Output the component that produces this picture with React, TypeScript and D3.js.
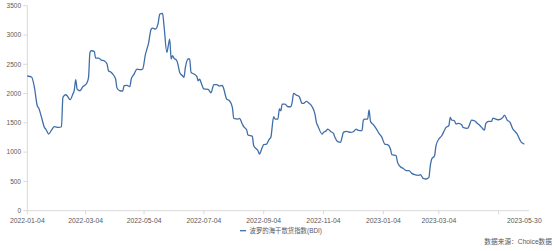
import React from "react";
import * as d3 from "d3";

// [trading-session index, BDI value]
const bdiSeries: [number, number][] = [
  [0,2300],[3,2282],[5,2105],[7,1792],[8,1753],[10,1593],[12,1422],[13,1394],[15,1309],[17,1377],[19,1434],[22,1422],[24,1434],[25,1934],[27,1980],[28,1963],[30,1895],[32,1992],[33,2060],[34,2236],[35,2077],[37,2048],[39,2117],[40,2134],[42,2190],[43,2275],[44,2702],[45,2731],[47,2720],[48,2606],[50,2606],[52,2572],[54,2560],[56,2504],[57,2390],[59,2361],[60,2333],[62,2248],[63,2094],[65,2048],[67,2043],[68,2134],[70,2139],[72,2117],[73,2248],[75,2333],[77,2418],[79,2407],[81,2418],[83,2674],[84,2760],[85,2845],[87,3101],[88,3118],[90,3101],[92,3215],[93,3357],[95,3368],[96,3158],[98,2702],[99,2817],[100,2931],[101,2590],[102,2646],[103,2606],[105,2560],[106,2475],[107,2361],[109,2304],[110,2275],[111,2446],[113,2590],[114,2590],[115,2361],[117,2333],[119,2293],[120,2219],[121,2248],[122,2190],[124,2080],[127,2071],[129,2014],[131,2151],[133,2151],[135,2128],[137,2139],[138,2077],[140,1906],[142,1878],[144,1764],[145,1576],[148,1565],[149,1576],[151,1480],[152,1434],[154,1383],[155,1292],[158,1269],[159,1110],[161,1053],[162,1024],[163,968],[165,1081],[166,1127],[168,1138],[170,1224],[171,1252],[173,1605],[174,1565],[176,1565],[177,1736],[178,1707],[179,1821],[181,1821],[183,1775],[185,1775],[186,1849],[187,2002],[189,1974],[191,1946],[193,1832],[194,1832],[196,1866],[198,1832],[200,1775],[202,1650],[203,1508],[204,1451],[207,1309],[208,1337],[210,1366],[211,1394],[213,1354],[215,1320],[216,1252],[218,1178],[220,1166],[221,1252],[222,1337],[224,1354],[227,1337],[229,1348],[231,1394],[232,1377],[235,1366],[236,1548],[237,1565],[239,1565],[240,1719],[241,1525],[243,1468],[245,1400],[247,1320],[249,1252],[251,1138],[253,1127],[255,1053],[256,956],[259,939],[260,825],[262,751],[264,722],[266,683],[268,683],[270,637],[272,615],[275,603],[276,615],[278,552],[280,541],[282,569],[283,768],[284,882],[286,939],[287,1110],[289,1224],[291,1280],[293,1377],[294,1422],[296,1451],[297,1593],[298,1548],[300,1536],[301,1480],[303,1491],[305,1468],[306,1422],[309,1405],[310,1434],[312,1548],[314,1536],[316,1491],[318,1451],[319,1422],[321,1377],[322,1491],[324,1525],[326,1525],[327,1582],[329,1565],[331,1553],[334,1593],[335,1633],[337,1548],[339,1508],[341,1394],[342,1366],[344,1309],[346,1206],[347,1166],[349,1138]
];

const yTicks = [0, 500, 1000, 1500, 2000, 2500, 3000, 3500];
const xTickIdx = [0, 41, 82, 124, 166, 208, 250, 289, 331];
const xLabelIdx = [0, 41, 82, 124, 166, 208, 250, 289, 349];
const xLabels = ["2022-01-04", "2022-03-04", "2022-05-04", "2022-07-04", "2022-09-04", "2022-11-04", "2023-01-04", "2023-03-04", "2023-05-30"];
const seriesName = "波罗的海干散货指数(BDI)";
const sourceText = "数据来源：Choice数据";

const W = 554, H = 251;
const left = 27.3, right = 524.3, axisEnd = 529, top = 5.7, bottom = 210.7;
const FONT = "'Liberation Sans', 'Noto Sans CJK SC', sans-serif";
const LINE = "#3f6ea8";
const AXIS = "#d9d9d9";
const TEXT = "#595959";

export default function App() {
  const x = d3.scaleLinear().domain([0, 349]).range([left, right]);
  const y = d3.scaleLinear().domain([0, 3500]).range([bottom, top]);
  const line = d3.line<[number, number]>()
    .x(d => x(d[0]))
    .y(d => y(d[1]))
    .curve(d3.curveMonotoneX);

  return (
    <svg width={W} height={H} style={{ position: "absolute", left: 0, top: 0, background: "#fff" }} fontFamily={FONT}>
      <line x1={left} x2={left} y1={top} y2={bottom} stroke={AXIS} strokeWidth={1} />
      <line x1={left} x2={axisEnd} y1={bottom} y2={bottom} stroke={AXIS} strokeWidth={1} />
      {yTicks.map(t => (
        <g key={t}>
          <line x1={left - 4} x2={left} y1={y(t)} y2={y(t)} stroke={AXIS} />
          <text x={21} y={y(t)} dy="0.35em" textAnchor="end" fontSize={6.5} fill={TEXT}>{t}</text>
        </g>
      ))}
      {xTickIdx.map(i => (
        <line key={i} x1={x(i)} x2={x(i)} y1={bottom} y2={bottom + 3.5} stroke={AXIS} />
      ))}
      {xLabelIdx.map((i, k) => (
        <text key={k} x={x(i)} y={222.5} textAnchor="middle" fontSize={6.8} fill={TEXT}>{xLabels[k]}</text>
      ))}
      <path d={line(bdiSeries) || ""} fill="none" stroke={LINE} strokeWidth={1.3} strokeLinejoin="round" />
      <line x1={240} x2={246} y1={230.7} y2={230.7} stroke={LINE} strokeWidth={1.3} />
      <text x={249.5} y={230.7} dy="0.35em" fontSize={6.4} fill={TEXT}>{seriesName}</text>
      <text x={552} y={241.5} dy="0.35em" textAnchor="end" fontSize={6.7} fill={TEXT}>{sourceText}</text>
    </svg>
  );
}
